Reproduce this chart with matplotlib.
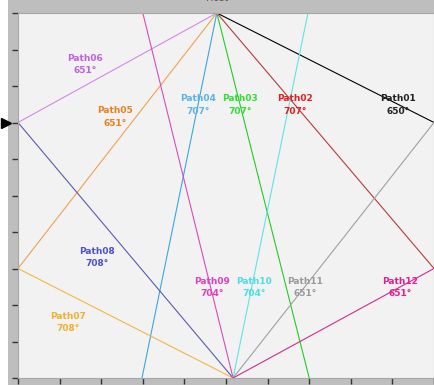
import matplotlib
matplotlib.use("Agg")
import matplotlib.pyplot as plt
from matplotlib.patches import Rectangle

# path names and angle labels
names = ["Path01", "Path02", "Path03", "Path04", "Path05", "Path06",
         "Path07", "Path08", "Path09", "Path10", "Path11", "Path12"]
angles = ["650°", "707°", "707°", "707°", "651°", "651°",
          "708°", "708°", "704°", "704°", "651°", "651°"]

# segment end points (data units)
x_start = [4.78, 4.78, 4.78, 4.78, 4.78, 4.78, 5.17, 5.17, 5.17, 5.17, 5.17, 5.17]
y_start = [10, 10, 10, 10, 10, 10, 0, 0, 0, 0, 0, 0]
x_end = [10, 10, 7.0, 2.98, 0, 0, 0, 0, 3.0, 6.97, 10, 10]
y_end = [7, 3, 0, 0, 3, 7, 3, 7, 10, 10, 7, 3]

# label anchor points
label_x = [9.13, 6.66, 5.34, 4.33, 2.33, 1.61, 1.20, 1.90, 4.66, 5.67, 6.90, 9.18]
label_y = [7.48, 7.48, 7.48, 7.48, 7.15, 8.58, 1.53, 3.29, 2.47, 2.47, 2.47, 2.47]

line_colors = ["#000000", "#b83a3a", "#22cc22", "#3aa6e0", "#f0a050", "#d488e6",
               "#f0b848", "#5a5ab0", "#d84cb8", "#60e4e4", "#a0a0a0", "#d42a8c"]
text_colors = ["#222222", "#e02020", "#33dd33", "#5ab4e8", "#e8801e", "#c060e0",
               "#f0b030", "#5050c8", "#e040c0", "#48e0e0", "#999999", "#e0208f"]

fig = plt.figure(figsize=(4.34, 3.85), dpi=100, facecolor="#bebebe")
fig.patches.append(Rectangle((0, 0), 8 / 434, 1, transform=fig.transFigure,
                             facecolor="white", edgecolor="none", zorder=-1))
ax = fig.add_axes([18 / 434, 7 / 385, 416 / 434, 365 / 385])
ax.set_facecolor("#f2f2f2")

for i in range(len(names)):
    ax.plot([x_start[i], x_end[i]], [y_start[i], y_end[i]],
            color=line_colors[i], lw=0.8)
    ax.text(label_x[i], label_y[i], names[i] + "\n" + angles[i],
            color=text_colors[i], fontsize=6.5, fontweight="bold",
            ha="center", va="center", linespacing=1.45)

# arrow marker at the left entry point
ax.plot([-0.3], [7], marker=">", color="black", markersize=7, clip_on=False)

ax.set_xlim(0, 10)
ax.set_ylim(0, 10)
ax.set_xticks(range(11))
ax.set_yticks(range(11))
ax.set_xticklabels([])
ax.set_yticklabels([])
ax.tick_params(direction="out", length=4, width=1, color="#333333")
for s in ax.spines.values():
    s.set_color("#a8a8a8")
    s.set_linewidth(0.8)

fig.text(0.5, 1.0 + 2 / 385, "Host", ha="center", va="center",
         fontsize=7, color="#555555")

fig.savefig("out.png", dpi=100, facecolor=fig.get_facecolor())
